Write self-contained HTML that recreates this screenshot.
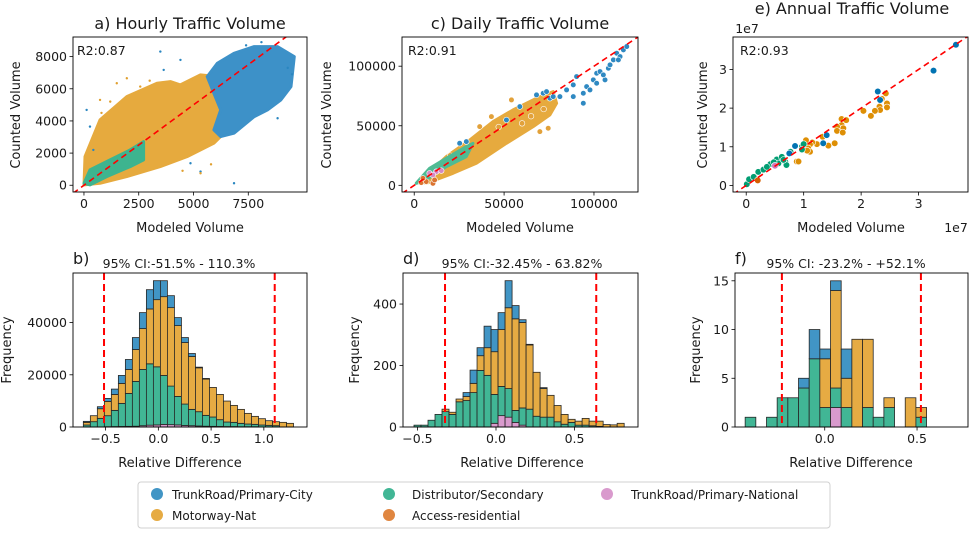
<!DOCTYPE html>
<html><head><meta charset="utf-8">
<style>
body{margin:0;background:#fff;}
svg text{font-family:"DejaVu Sans","Liberation Sans",sans-serif;fill:#1a1a1a;}
</style></head>
<body>
<svg id="chart" width="971" height="530" viewBox="0 0 971 530" xmlns="http://www.w3.org/2000/svg">
<defs>
<clipPath id="clipA"><rect x="73" y="37" width="234" height="155"/></clipPath>
<clipPath id="clipC"><rect x="402" y="37" width="236" height="155"/></clipPath>
<clipPath id="clipE"><rect x="733" y="37" width="235" height="155"/></clipPath>
</defs>
<text x="190" y="29" font-size="16" text-anchor="middle">a) Hourly Traffic Volume</text>
<text x="520" y="29" font-size="16" text-anchor="middle">c) Daily Traffic Volume</text>
<text x="852" y="14" font-size="16" text-anchor="middle">e) Annual Traffic Volume</text>
<text x="747" y="33" font-size="12.5" text-anchor="middle">1e7</text>
<text x="956" y="232" font-size="12.5" text-anchor="middle">1e7</text>
<text x="77" y="55" font-size="12.5">R2:0.87</text>
<text x="408" y="55" font-size="12.5">R2:0.91</text>
<text x="740" y="55" font-size="12.5">R2:0.93</text>
<text x="190" y="232" font-size="13" text-anchor="middle">Modeled Volume</text>
<text x="520" y="232" font-size="13" text-anchor="middle">Modeled Volume</text>
<text x="851" y="232" font-size="13" text-anchor="middle">Modeled Volume</text>
<text transform="translate(20,115) rotate(-90)" font-size="13" text-anchor="middle">Counted Volume</text>
<text transform="translate(331,115) rotate(-90)" font-size="13" text-anchor="middle">Counted Volume</text>
<text transform="translate(707,115) rotate(-90)" font-size="13" text-anchor="middle">Counted Volume</text>
<text x="73" y="264" font-size="16">b)</text>
<text x="403" y="264" font-size="16">d)</text>
<text x="735" y="264" font-size="16">f)</text>
<text x="179" y="268" font-size="12.5" text-anchor="middle">95% CI:-51.5% - 110.3%</text>
<text x="522" y="268" font-size="12.5" text-anchor="middle">95% CI:-32.45% - 63.82%</text>
<text x="846" y="268" font-size="12.5" text-anchor="middle">95% CI: -23.2% - +52.1%</text>
<text x="180" y="467" font-size="13" text-anchor="middle">Relative Difference</text>
<text x="522" y="467" font-size="13" text-anchor="middle">Relative Difference</text>
<text x="851" y="467" font-size="13" text-anchor="middle">Relative Difference</text>
<text transform="translate(11,350) rotate(-90)" font-size="13" text-anchor="middle">Frequency</text>
<text transform="translate(359,350) rotate(-90)" font-size="13" text-anchor="middle">Frequency</text>
<text transform="translate(700,350) rotate(-90)" font-size="13" text-anchor="middle">Frequency</text>
<g>
<rect x="138" y="482" width="692" height="46" rx="3" fill="#fff" stroke="#d0d0d0"/>
<circle cx="157" cy="494" r="6" fill="#4195c5"/>
<text x="172" y="499" font-size="12">TrunkRoad/Primary-City</text>
<circle cx="157" cy="515" r="6" fill="#e6ab43"/>
<text x="172" y="520" font-size="12">Motorway-Nat</text>
<circle cx="389" cy="494" r="6" fill="#41b695"/>
<text x="412" y="499" font-size="12">Distributor/Secondary</text>
<circle cx="389" cy="515" r="6" fill="#e08640"/>
<text x="412" y="520" font-size="12">Access-residential</text>
<circle cx="607" cy="494" r="6" fill="#d99acd"/>
<text x="631" y="499" font-size="12">TrunkRoad/Primary-National</text>
</g>
</svg>
<script>
// ---------- DATA ----------
const hourlyOrangeX=[0,46,734,1957,3333,3945,4404,5321,6086,6391,6544,5933,4709,3486,1957,734];
const hourlyOrangeY=[20,1783,4063,5514,6343,6447,6240,6862,6758,5307,3441,2612,1783,1161,539,124];
const hourlyBlueX=[5627,6086,6850,7768,8838,9602,9450,8991,8379,7768,6850,6239,5933,6239,5933];
const hourlyBlueY=[6758,7587,8209,8624,8624,8002,6136,5307,4685,4270,3234,3027,3441,4685,5721];
const hourlyGreenX=[0,275,1193,2110,2722,2722,2110,1040,275];
const hourlyGreenY=[124,954,1575,2197,2716,1575,1161,539,20];
const hourlyBlueOutX=[3486,4404,122,275,8838,6850,4862,5321,3639,428,9300,8100,7400,9500];
const hourlyBlueOutY=[8313,7794,4685,3648,4167,124,1368,850,7172,2197,7300,8900,8700,6900];
const hourlyOrangeOutX=[1957,734,5321,2569,1498,1200,4500,5800,3000,800];
const hourlyOrangeOutY=[6654,5307,746,6136,6343,5200,900,1300,6500,4500];
const dailyOrangeX=[2974,17846,30860,43872,55026,69898,77334,79193,75475,66180,51308,34577,21564,6692];
const dailyOrangeY=[3080,24080,38080,53480,63280,74480,78680,68880,59080,49280,35280,18480,10080,1680];
const dailyGreenX=[1115,8551,17846,28999,32717,28999,17846,4833];
const dailyGreenY=[1680,14280,22680,32480,35280,24080,15680,3080];
const dailyBlueX=[68040,71757,75475,81052,84770,88489,90348,94066,95925,99643,101502,103361,106150,108010,110799,112658,114517,116376,118235,94066,77334,88489,97785,101502,105221,108939,113588,58744,51308,25282,29000,73616];
const dailyBlueY=[75880,77280,73080,74480,80080,84280,91280,77280,82880,88480,94080,95480,88480,98280,105280,110880,108080,113680,116480,68880,74480,74480,80080,85680,92680,101080,105280,66080,54880,35280,36680,78680];
const dailyOrangePtsX=[54097,42943,69898,74546,36436,60000,65000,72000,47000,20000];
const dailyOrangePtsY=[71680,57680,45080,47880,49280,52000,58000,64000,49000,25000];
const dailyPinkX=[8551,12269,15057,10410];
const dailyPinkY=[10080,11480,12320,8680];
const dailyRedX=[3904,6692,10410,11340,4833];
const dailyRedY=[2240,3080,1680,4480,5880];
const annualBlueX=[3.65,3.26,2.29,2.33,1.40,0.85,0.75,1.34];
const annualBlueY=[3.64,2.97,2.43,2.21,1.30,1.02,0.83,1.09];
const annualOrangeX=[2.43,2.36,2.45,2.45,2.32,2.33,2.24,2.17,2.04,1.66,1.74,1.66,1.69,1.58,1.58,1.68,1.54,1.43,1.33,1.23,1.15,1.11,1.08,1.11,1.06,0.88,0.91,1.04];
const annualOrangeY=[2.38,2.24,2.12,2.02,2.04,1.95,1.93,1.80,1.93,1.72,1.69,1.56,1.48,1.52,1.41,1.37,1.09,1.03,1.26,1.07,1.11,1.06,0.96,0.87,0.90,0.62,0.62,1.17];
const annualGreenX=[0.01,0.05,0.13,0.21,0.30,0.42,0.53,0.62,0.68,0.70,0.56,0.77,0.97,1.00,0.97,0.36,0.48,0.65];
const annualGreenY=[0.03,0.16,0.22,0.35,0.41,0.55,0.67,0.74,0.61,0.53,0.57,0.87,1.00,1.07,0.93,0.48,0.60,0.66];
const annualRedX=[0.20];
const annualRedY=[0.13];
const annualPinkX=[0.50];
const annualPinkY=[0.51];
const histHourlyPink=[0,0,0,100,150,200,250,300,500,700,800,1000,900,800,600,500,400,300,250,200,150,150,100,100,100,0,0,0,0,0];
const histHourlyGreen=[764,2038,3312,4231,6220,8845,12617,17152,21540,23504,22258,18747,14770,10921,8190,6252,5460,4159,3572,2603,1761,1633,1301,1046,919,764,637,510,0,0];
const histHourlyOrange=[1019,2293,3694,5478,6114,7644,9173,12230,15667,21019,25732,30189,30063,27133,23568,20256,16816,13886,11338,9681,8026,6498,5351,4077,3058,2421,1783,1528,1783,1401];
const histHourlyBlue=[383,0,765,1146,2038,3058,3820,4586,6115,7387,7260,6114,4585,3057,1910,1147,254,255,0,0,0,0,0,0,0,0,0,0,0,0];
const histDailyPink=[0,0,0,0,0,0,0,0,0,0,0,12,37,32,15,6,0,0,0,0,0,0,0,0,0,0,0,0,0,0];
const histDailyGreen=[6,6,22,41,50,41,82,86,112,184,168,94,95,93,39,56,58,35,32,32,17,9,15,6,6,4,2,0,0,0];
const histDailyOrange=[0,0,0,0,8,7,9,13,30,48,90,139,185,263,298,278,209,143,93,71,53,32,10,13,22,15,17,8,7,12];
const histDailyBlue=[0,0,0,0,0,0,0,13,43,26,70,72,55,88,43,9,2,0,3,0,0,0,0,0,0,0,0,0,0,0];
const histAnnualPink=[0,0,0,0,0,0,0,0,2,0,0,0,0,0,0,0,0];
const histAnnualGreen=[1,0,1,3,3,4,7,2,2,2,0,2,1,2,0,0,1];
const histAnnualOrange=[0,0,0,0,0,0,0,5,10,3,9,7,0,1,0,3,1];
const histAnnualBlue=[0,0,0,0,0,1,3,1,1,3,0,0,0,0,0,0,0];
const histHourlyBins=[-0.711,0.0664];
const histDailyBins=[-0.522,0.0446];
const histAnnualBins=[-0.431,0.0578];
const ciHourly=[-0.515,1.103];
const ciDaily=[-0.3245,0.6382];
const ciAnnual=[-0.232,0.521];
const ticksHourlyX=[0,2500,5000,7500];
const ticksHourlyY=[0,2000,4000,6000,8000];
const ticksDailyX=[0,50000,100000];
const ticksDailyY=[0,50000,100000];
const ticksAnnualX=[0,1,2,3];
const ticksAnnualY=[0,1,2,3];
const ticksHistHourlyX=[-0.5,0.0,0.5,1.0];
const ticksHistHourlyY=[0,20000,40000];
const ticksHistDailyX=[-0.5,0.0,0.5];
const ticksHistDailyY=[0,200,400];
const ticksHistAnnualX=[0.0,0.5];
const ticksHistAnnualY=[0,5,10,15];

// ---------- DRAWING ----------
const NS='http://www.w3.org/2000/svg';
const svg=document.getElementById('chart');
function el(tag,attrs,parent){const e=document.createElementNS(NS,tag);for(const k in attrs)e.setAttribute(k,attrs[k]);(parent||svg).appendChild(e);return e;}
function lin(d0,d1,r0,r1){return v=>r0+(v-d0)*(r1-r0)/(d1-d0);}
function panel(box,xd,yd){return {box:box,x:lin(xd[0],xd[1],box[0],box[2]),y:lin(yd[0],yd[1],box[3],box[1]),xd:xd,yd:yd};}

const pA=panel([73,37,307,192],[-500,10180],[-420,9220]);
const pC=panel([402,37,638,192],[-6800,124500],[-5600,124500]);
const pE=panel([733,37,968,192],[-0.23,3.86],[-0.17,3.84]);
const pB=panel([73,273,307,427],[-0.809,1.409],[0,59000]);
const pD=panel([403,273,638,427],[-0.592,0.904],[0,501]);
const pF=panel([735,273,968,427],[-0.486,0.776],[0,15.8]);

function axes(p,xt,yt,xlabFn,name){
  const b=p.box;
  const g=el('g',{});
  
  
  xt.forEach(v=>{const x=p.x(v);
    const t=el('line',{x1:x,x2:x,y1:b[3],y2:b[3]+3.5,stroke:'#000','stroke-width':0.8},g);
    
    
    const l=el('text',{x:x,y:b[3]+16,'font-size':12.5,'text-anchor':'middle'},g);
    l.textContent=xlabFn(v);
    
    
  });
  yt.forEach(v=>{const y=p.y(v);
    const t=el('line',{x1:b[0]-3.5,x2:b[0],y1:y,y2:y,stroke:'#000','stroke-width':0.8},g);
    
    
    const l=el('text',{x:b[0]-6,y:y+4.5,'font-size':12.5,'text-anchor':'end'},g);
    l.textContent=String(v);
    
    
  });
  const r=el('rect',{x:b[0],y:b[1],width:b[2]-b[0],height:b[3]-b[1],fill:'none',stroke:'#000','stroke-width':0.9},g);
  
  
}
function blob(p,xs,ys,color,clip,name){
  const pts=xs.map((v,i)=>p.x(v).toFixed(1)+','+p.y(ys[i]).toFixed(1)).join(' ');
  const e=el('polygon',{points:pts,fill:color,stroke:color,'stroke-width':3,'stroke-linejoin':'round','clip-path':'url(#'+clip+')'});
  
  
}
function dots(p,xs,ys,color,r,clip,name,edge){
  const g=el('g',{'clip-path':'url(#'+clip+')'});
  
  
  xs.forEach((v,i)=>{
    const c=el('circle',{cx:p.x(v),cy:p.y(ys[i]),r:r,fill:color,stroke:edge?'#fff':'none','stroke-width':edge?0.6:0},g);
    
    
  });
}
function diag(p,clip,name){
  const lo=Math.min(p.xd[0],p.yd[0]),hi=Math.max(p.xd[1],p.yd[1]);
  const l=el('line',{x1:p.x(lo),y1:p.y(lo),x2:p.x(hi),y2:p.y(hi),stroke:'#ff0000','stroke-width':1.6,'stroke-dasharray':'6,4','clip-path':'url(#'+clip+')'});
  
  
}
function hist(p,bins,series,colors,ci,name){
  const g=el('g',{});
  
  
  const n=series[0].length;
  for(let i=0;i<n;i++){
    let cum=0;
    const x0=p.x(bins[0]+i*bins[1]),x1=p.x(bins[0]+(i+1)*bins[1]);
    series.forEach((s,k)=>{
      if(s[i]<=0)return;
      const yb=p.y(cum),yt=p.y(cum+s[i]);cum+=s[i];
      const r=el('rect',{x:x0,y:yt,width:x1-x0,height:yb-yt,fill:colors[k],stroke:'#262626','stroke-width':0.8},g);
      
      
    });
  }
  ci.forEach(v=>{
    const l=el('line',{x1:p.x(v),x2:p.x(v),y1:p.box[1],y2:p.box[3],stroke:'#ff0000','stroke-width':2,'stroke-dasharray':'7,4'});
    
    
  });
}
const BLUE='#3d91c8',ORANGE='#e6aa3e',GREEN='#3db48f';
blob(pA,hourlyOrangeX,hourlyOrangeY,ORANGE,'clipA','hourly-motorway-cloud');
blob(pA,hourlyBlueX,hourlyBlueY,BLUE,'clipA','hourly-city-cloud');
blob(pA,hourlyGreenX,hourlyGreenY,GREEN,'clipA','hourly-distributor-cloud');
dots(pA,hourlyBlueOutX,hourlyBlueOutY,'#2a86c0',1.2,'clipA','hourly-city-outliers',false);
dots(pA,hourlyOrangeOutX,hourlyOrangeOutY,'#e0a030',1.2,'clipA','hourly-motorway-outliers',false);
diag(pA,'clipA','hourly-identity-line');
axes(pA,ticksHourlyX,ticksHourlyY,v=>String(v),'hourly-scatter');
blob(pC,dailyOrangeX,dailyOrangeY,ORANGE,'clipC','daily-motorway-cloud');
dots(pC,dailyOrangePtsX,dailyOrangePtsY,'#e2a13a',2.8,'clipC','daily-motorway-points',true);
blob(pC,dailyGreenX,dailyGreenY,'#4fbb94','clipC','daily-distributor-cloud');
dots(pC,dailyBlueX,dailyBlueY,'#2f89c2',2.8,'clipC','daily-city-points',true);
dots(pC,dailyPinkX,dailyPinkY,'#d48ac4',2.8,'clipC','daily-national-points',true);
dots(pC,dailyRedX,dailyRedY,'#db7430',2.8,'clipC','daily-access-points',true);
diag(pC,'clipC','daily-identity-line');
axes(pC,ticksDailyX,ticksDailyY,v=>String(v),'daily-scatter');
dots(pE,annualOrangeX,annualOrangeY,'#de8f05',3.3,'clipE','annual-motorway-points',true);
dots(pE,annualGreenX,annualGreenY,'#029e73',3.3,'clipE','annual-distributor-points',true);
dots(pE,annualBlueX,annualBlueY,'#0173b2',3.3,'clipE','annual-city-points',true);
dots(pE,annualRedX,annualRedY,'#d55e00',3.3,'clipE','annual-access-points',true);
dots(pE,annualPinkX,annualPinkY,'#cc78bc',3.3,'clipE','annual-national-points',true);
diag(pE,'clipE','annual-identity-line');
axes(pE,ticksAnnualX,ticksAnnualY,v=>String(v),'annual-scatter');
const HC=['#d99acd','#41b695','#e6ab43','#4195c5'];
hist(pB,histHourlyBins,[histHourlyPink,histHourlyGreen,histHourlyOrange,histHourlyBlue],HC,ciHourly,'hist-hourly');
axes(pB,ticksHistHourlyX,ticksHistHourlyY,v=>v.toFixed(1).replace('-','\u2212'),'hist-hourly');
hist(pD,histDailyBins,[histDailyPink,histDailyGreen,histDailyOrange,histDailyBlue],HC,ciDaily,'hist-daily');
axes(pD,ticksHistDailyX,ticksHistDailyY,v=>v.toFixed(1).replace('-','\u2212'),'hist-daily');
hist(pF,histAnnualBins,[histAnnualPink,histAnnualGreen,histAnnualOrange,histAnnualBlue],HC,ciAnnual,'hist-annual');
axes(pF,ticksHistAnnualX,ticksHistAnnualY,v=>v.toFixed(1),'hist-annual');
</script>
</body></html>
